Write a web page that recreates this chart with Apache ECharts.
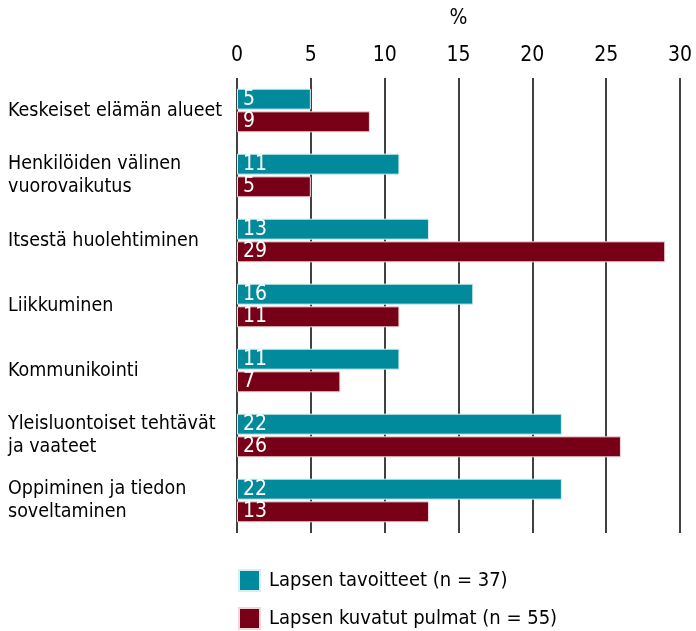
<!DOCTYPE html>
<html>
<head>
<meta charset="utf-8">
<script src="https://cdn.jsdelivr.net/npm/echarts@6/dist/echarts.min.js"></script>
<style>
  html, body { margin: 0; padding: 0; background: #ffffff; }
  #chart { width: 696px; height: 631px; }
</style>
</head>
<body>
<div id="chart"></div>
<script>
var categories = [
  'Keskeiset elämän alueet',
  'Henkilöiden välinen\nvuorovaikutus',
  'Itsestä huolehtiminen',
  'Liikkuminen',
  'Kommunikointi',
  'Yleisluontoiset tehtävät\nja vaateet',
  'Oppiminen ja tiedon\nsoveltaminen'
]
var tavoitteet = [5, 11, 13, 16, 11, 22, 22]
var pulmat = [9, 5, 29, 11, 7, 26, 13]
var seriesNames = ['Lapsen tavoitteet (n = 37)', 'Lapsen kuvatut pulmat (n = 55)']

var font = '"Liberation Sans Narrow", "DejaVu Sans Condensed", sans-serif'

var legendText = { fontSize: 20, color: '#000000', fontFamily: font, padding: [0, 0, 0, 4] }

var chart = echarts.init(document.getElementById('chart'))
chart.setOption({
  backgroundColor: '#ffffff',
  textStyle: { fontFamily: font },
  animation: false,
  legend: [
    {
      left: 233,
      top: 564,
      itemWidth: 21,
      itemHeight: 21,
      icon: 'rect',
      data: [seriesNames[0]],
      textStyle: legendText
    },
    {
      left: 233,
      top: 602,
      itemWidth: 21,
      itemHeight: 21,
      icon: 'rect',
      data: [seriesNames[1]],
      textStyle: legendText
    }
  ],
  grid: {
    left: 237,
    right: 16,
    top: 78,
    bottom: 98,
    outerBoundsMode: 'none'
  },
  xAxis: {
    type: 'value',
    position: 'top',
    min: 0,
    max: 30,
    interval: 5,
    name: '%',
    nameLocation: 'middle',
    nameGap: 49,
    nameMoveOverlap: false,
    nameTextStyle: { fontSize: 21, color: '#000000', fontFamily: font },
    axisLine: { show: false },
    axisTick: { show: false },
    axisLabel: { fontSize: 21, color: '#000000', margin: 12, fontFamily: font },
    splitLine: { lineStyle: { color: '#000000', width: 1.5 } }
  },
  yAxis: {
    type: 'category',
    inverse: true,
    data: categories,
    axisLine: { show: false },
    axisTick: { show: false },
    axisLabel: {
      align: 'left',
      margin: 229,
      fontSize: 19.5,
      lineHeight: 23,
      color: '#000000',
      fontFamily: font
    }
  },
  series: [
    {
      name: seriesNames[0],
      type: 'bar',
      data: tavoitteet,
      barWidth: 21,
      barGap: '8%',
      itemStyle: { color: '#008a9b', borderColor: '#d8eef0', borderWidth: 1 },
      label: { show: true, position: 'insideLeft', offset: [1, 0], color: '#ffffff', fontSize: 21, fontFamily: font }
    },
    {
      name: seriesNames[1],
      type: 'bar',
      data: pulmat,
      barWidth: 21,
      itemStyle: { color: '#780016', borderColor: '#eed8dc', borderWidth: 1 },
      label: { show: true, position: 'insideLeft', offset: [1, 0], color: '#ffffff', fontSize: 21, fontFamily: font }
    }
  ]
})
</script>
</body>
</html>
